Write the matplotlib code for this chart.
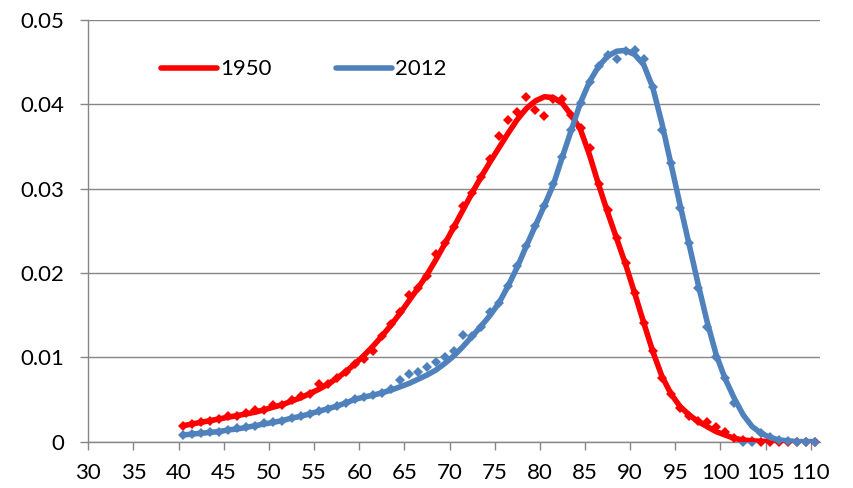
import matplotlib.pyplot as plt
import numpy as np

plt.rcParams['font.family'] = ['Lato', 'DejaVu Sans']

# ages (single years); values are plotted at mid-year
ages = list(range(40, 111))

# fitted curves
fit_1950 = [0.0019, 0.0021, 0.0023, 0.0025, 0.0027, 0.0029, 0.0031, 0.0033, 0.0035, 0.0038,
            0.0041, 0.0044, 0.0048, 0.0052, 0.0057, 0.0062, 0.0068, 0.0075, 0.0083, 0.0092,
            0.0102, 0.0113, 0.0125, 0.0138, 0.0152, 0.0167, 0.0182, 0.0198, 0.0216, 0.0235,
            0.0255, 0.0275, 0.0295, 0.0314, 0.0332, 0.0349, 0.0366, 0.0382, 0.0395, 0.0404,
            0.0409, 0.0408, 0.0401, 0.0387, 0.0370, 0.0340, 0.0305, 0.0272, 0.0241, 0.0210,
            0.0176, 0.0141, 0.0107, 0.0078, 0.0057, 0.0042, 0.0032, 0.0024, 0.0018, 0.0012,
            0.0008, 0.0004, 0.0002, 0.0001, 0.00005, 0.00003, 0.00002, 0.00001, 0.0, 0.0, 0.0]

fit_2012 = [0.0008, 0.0009, 0.0010, 0.0011, 0.0012, 0.0014, 0.0015, 0.0017, 0.0019, 0.0021,
            0.0023, 0.0025, 0.0028, 0.0030, 0.0033, 0.0036, 0.0039, 0.0042, 0.0046, 0.0050,
            0.0053, 0.0055, 0.0058, 0.0061, 0.0065, 0.0069, 0.0074, 0.0079, 0.0085, 0.0093,
            0.0102, 0.0113, 0.0125, 0.0137, 0.0150, 0.0165, 0.0185, 0.0207, 0.0232, 0.0256,
            0.0280, 0.0305, 0.0338, 0.0370, 0.0402, 0.0427, 0.0445, 0.0457, 0.0463, 0.0464,
            0.0459, 0.0447, 0.0420, 0.0378, 0.0330, 0.0282, 0.0235, 0.0188, 0.0143, 0.0104,
            0.0075, 0.0052, 0.0032, 0.0018, 0.0010, 0.0005, 0.0002, 0.0001, 0.0, 0.0, 0.0]

# observed values
obs_1950 = [0.0019, 0.0021, 0.0023, 0.0025, 0.0027, 0.0031, 0.0031, 0.0034, 0.0037, 0.0038,
            0.0043, 0.0044, 0.0050, 0.0054, 0.0057, 0.0068, 0.0068, 0.0075, 0.0083, 0.0092,
            0.0098, 0.0107, 0.0125, 0.0140, 0.0154, 0.0174, 0.0182, 0.0196, 0.0223, 0.0235,
            0.0255, 0.0280, 0.0295, 0.0314, 0.0335, 0.0362, 0.0381, 0.0391, 0.0409, 0.0393,
            0.0386, 0.0406, 0.0406, 0.0387, 0.0372, 0.0348, 0.0305, 0.0275, 0.0241, 0.0212,
            0.0176, 0.0141, 0.0107, 0.0076, 0.0056, 0.0040, 0.0030, 0.0024, 0.0023, 0.0017,
            0.0011, 0.0004, 0.0002, 0.0001, 0.0, 0.0, 0.0, 0.0, 0.0, 0.0, 0.0]

obs_2012 = [0.0008, 0.0009, 0.0010, 0.0011, 0.0012, 0.0014, 0.0016, 0.0017, 0.0019, 0.0022,
            0.0023, 0.0025, 0.0028, 0.0031, 0.0033, 0.0036, 0.0039, 0.0042, 0.0046, 0.0051,
            0.0053, 0.0055, 0.0058, 0.0062, 0.0073, 0.0080, 0.0083, 0.0089, 0.0095, 0.0101,
            0.0108, 0.0127, 0.0125, 0.0136, 0.0154, 0.0165, 0.0185, 0.0208, 0.0232, 0.0256,
            0.0280, 0.0305, 0.0338, 0.0370, 0.0402, 0.0427, 0.0446, 0.0458, 0.0454, 0.0463,
            0.0465, 0.0454, 0.0420, 0.0370, 0.0330, 0.0277, 0.0235, 0.0182, 0.0136, 0.0101,
            0.0075, 0.0046, 0.0, 0.0, 0.0010, 0.0005, 0.0002, 0.0001, 0.0, 0.0, 0.0]

red = '#FF0000'
blue = '#4F81BD'
grey = '#868686'

x = np.array(ages) + 0.5

fig = plt.figure(figsize=(8.54, 4.88), dpi=100)
ax = fig.add_axes([0.1034, 0.0949, 0.8566, 0.8641])

ax.plot(x, obs_1950, 'D', color=red, ms=5, mew=0, zorder=3, clip_on=False)
ax.plot(x, obs_2012, 'D', color=blue, ms=5, mew=0, zorder=3, clip_on=False)
ax.plot(x, fit_1950, color=red, lw=4, solid_capstyle='round', label='1950', zorder=4)
ax.plot(x, fit_2012, color=blue, lw=4, solid_capstyle='round', label='2012', zorder=4)

ax.set_xlim(30, 111)
ax.set_ylim(0, 0.05)
ax.set_xticks(range(30, 111, 5))
ax.set_yticks([0, 0.01, 0.02, 0.03, 0.04, 0.05])
ax.set_yticklabels(['0', '0.01', '0.02', '0.03', '0.04', '0.05'])

ax.grid(axis='y', color=grey, lw=1.0)
ax.set_axisbelow(True)
for s in ['top', 'right']:
    ax.spines[s].set_visible(False)
for s in ['left', 'bottom']:
    ax.spines[s].set_color(grey)
    ax.spines[s].set_linewidth(1.0)
ax.tick_params(axis='both', colors=grey, labelcolor='black', length=6, width=1.0, labelsize=16)
ax.tick_params(axis='y', pad=11)
ax.tick_params(axis='x', pad=9)

ax.legend(loc='center left', bbox_to_anchor=(0.100, 0.883), ncol=2, frameon=False,
          fontsize=16, handlelength=2.5, handletextpad=0.15, columnspacing=2.9,
          borderpad=0, borderaxespad=0)

fig.savefig('out.png', dpi=100)
